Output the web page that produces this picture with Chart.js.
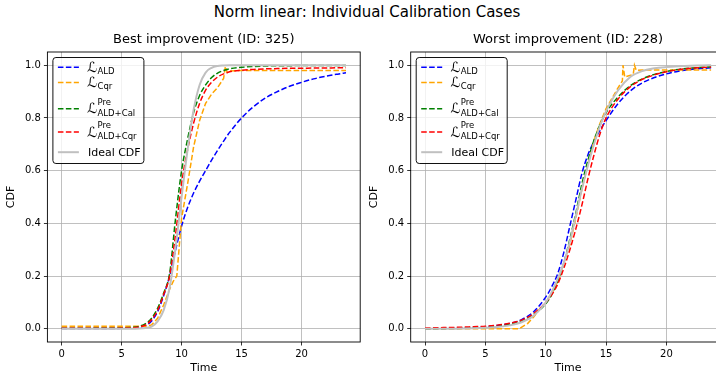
<!DOCTYPE html>
<html lang="en">
<head>
<meta charset="UTF-8">
<title>Norm linear: Individual Calibration Cases</title>
<style>
    html, body {
        margin: 0;
        padding: 0;
        background: #fff;
        overflow: hidden;
    }
    .figure {
        position: relative;
        width: 716px;
        height: 375px;
        overflow: hidden;
        font-family: "DejaVu Sans", sans-serif;
    }
    .suptitle {
        position: absolute;
        left: 0;
        width: 734px;
        top: 3px;
        text-align: center;
        font-size: 15px;
        line-height: 18px;
        color: #000;
    }
    canvas {
        position: absolute;
        top: 0;
    }
    #bestChart { left: 0; }
    #worstChart { left: 363px; }
</style>
</head>
<body>
<div class="figure">
    <div class="suptitle">Norm linear: Individual Calibration Cases</div>
    <canvas id="bestChart" width="365" height="375"></canvas>
    <canvas id="worstChart" width="367" height="375"></canvas>
</div>

<script src="https://cdn.jsdelivr.net/npm/chart.js"></script>
<script>
// ---- Best improvement (ID: 325) ----
const bestTime = [0, 1, 2, 3, 4, 5, 6, 6.5, 7, 7.5, 8, 8.5, 9, 9.5, 10, 10.5, 11, 11.5, 12, 12.5, 13, 13.5, 14, 15, 16, 17, 18, 19, 20, 21, 22, 23, 23.7];
const bestALD = [0.001, 0.001, 0.001, 0.001, 0.001, 0.002, 0.003, 0.006, 0.012, 0.03, 0.065, 0.125, 0.2, 0.3, 0.39, 0.46, 0.515, 0.56, 0.6, 0.64, 0.677, 0.712, 0.745, 0.8, 0.843, 0.876, 0.9, 0.92, 0.935, 0.948, 0.958, 0.966, 0.971];
const bestCal = [0.002, 0.002, 0.002, 0.003, 0.003, 0.004, 0.006, 0.01, 0.02, 0.04, 0.078, 0.135, 0.21, 0.42, 0.6, 0.72, 0.82, 0.885, 0.925, 0.953, 0.97, 0.98, 0.986, 0.992, 0.995, 0.997, 0.998, 0.998, 0.999, 0.999, 0.999, 0.999, 0.999];
const bestPreCqr = [0.002, 0.002, 0.002, 0.002, 0.002, 0.003, 0.004, 0.008, 0.015, 0.035, 0.07, 0.13, 0.2, 0.36, 0.55, 0.68, 0.78, 0.855, 0.905, 0.935, 0.955, 0.967, 0.975, 0.981, 0.984, 0.986, 0.987, 0.988, 0.988, 0.989, 0.989, 0.99, 0.99];
const bestIdeal = [0, 0, 0, 0, 0, 0, 0.0005, 0.001, 0.003, 0.008, 0.028, 0.07, 0.155, 0.31, 0.5, 0.68, 0.83, 0.925, 0.972, 0.99, 0.997, 0.999, 1, 1, 1, 1, 1, 1, 1, 1, 1, 1, 1];
const bestCqrTime = [0, 7, 7.5, 8, 8.5, 9, 9.3, 9.6, 10, 10.5, 11, 11.5, 12, 12.5, 13, 13.5, 13.65, 13.8, 14, 15, 23.7];
const bestCqr = [0.01, 0.01, 0.015, 0.04, 0.09, 0.15, 0.18, 0.2, 0.42, 0.55, 0.69, 0.79, 0.855, 0.89, 0.915, 0.95, 0.995, 0.972, 0.978, 0.98, 0.98];

// ---- Worst improvement (ID: 228) ----
const worstTime = [0, 1, 2, 3, 4, 5, 6, 7, 8, 9, 10, 10.5, 11, 11.5, 12, 12.5, 13, 13.5, 14, 14.5, 15, 16, 17, 18, 19, 20, 21, 22, 23, 23.7];
const worstALD = [0, 0.001, 0.002, 0.003, 0.005, 0.008, 0.013, 0.02, 0.035, 0.065, 0.12, 0.16, 0.21, 0.29, 0.39, 0.49, 0.59, 0.66, 0.712, 0.753, 0.79, 0.855, 0.902, 0.933, 0.953, 0.967, 0.977, 0.984, 0.988, 0.99];
const worstCal = [0, 0, 0.001, 0.002, 0.003, 0.005, 0.009, 0.016, 0.03, 0.055, 0.095, 0.13, 0.18, 0.25, 0.34, 0.44, 0.55, 0.64, 0.715, 0.775, 0.82, 0.88, 0.922, 0.948, 0.965, 0.976, 0.984, 0.989, 0.992, 0.994];
const worstPreCqr = [0.003, 0.004, 0.005, 0.006, 0.008, 0.01, 0.014, 0.021, 0.033, 0.058, 0.1, 0.13, 0.17, 0.23, 0.3, 0.38, 0.47, 0.57, 0.66, 0.74, 0.8, 0.872, 0.918, 0.946, 0.963, 0.975, 0.983, 0.988, 0.991, 0.993];
const worstIdeal = [0, 0, 0, 0.001, 0.002, 0.004, 0.007, 0.013, 0.025, 0.05, 0.1, 0.14, 0.19, 0.25, 0.33, 0.43, 0.53, 0.62, 0.7, 0.77, 0.825, 0.905, 0.955, 0.978, 0.988, 0.993, 0.996, 0.998, 0.999, 1];
const worstCqrTime = [0, 7.8, 8.5, 9, 9.5, 10, 10.5, 11, 11.5, 12, 12.5, 13, 13.5, 14, 14.5, 15, 15.5, 16, 16.35, 16.4, 16.55, 17.25, 17.35, 17.5, 18, 23.7];
const worstCqr = [0, 0, 0.02, 0.045, 0.075, 0.1, 0.135, 0.18, 0.25, 0.32, 0.42, 0.53, 0.625, 0.715, 0.78, 0.835, 0.875, 0.915, 0.94, 1, 0.955, 0.965, 1, 0.98, 0.982, 0.982];

const yTicks = [0, 0.2, 0.4, 0.6, 0.8, 1.0];
const FONT = '"DejaVu Sans", sans-serif';

// legend rows: colour, dashed, script-L label parts
const legendRows = [
    { color: '#0000ff', dash: true, sub: 'ALD' },
    { color: '#ffa500', dash: true, sub: 'Cqr' },
    { color: '#008000', dash: true, sub: 'ALD+Cal', sup: 'Pre' },
    { color: '#ff0000', dash: true, sub: 'ALD+Cqr', sup: 'Pre' },
    { color: '#c0c0c0', dash: false, text: 'Ideal CDF' }
];
const rowOffsets = [9.7, 25, 51.3, 74.5, 94.7];

function toPoints(time, values) {
    return time.map((t, i) => ({ x: t, y: values[i] }));
}

function dashed(time, values, color, order, straight) {
    return {
        data: toPoints(time, values),
        borderColor: color,
        borderWidth: 1.5,
        borderDash: [5.55, 2.4],
        pointRadius: 0,
        fill: false,
        order: order,
        tension: 0,
        cubicInterpolationMode: straight ? 'default' : 'monotone'
    };
}

// frame + math legend (Chart.js legend cannot do sub/superscripts)
const frameAndLegend = {
    id: 'frameAndLegend',
    afterDatasetsDraw(chart) {
        const { ctx, chartArea } = chart;
        ctx.save();
        ctx.strokeStyle = '#000';
        ctx.lineWidth = 0.9;
        ctx.strokeRect(chartArea.left, chartArea.top, chartArea.right - chartArea.left, chartArea.bottom - chartArea.top);

        const bx = chartArea.left + 5.5, by = chartArea.top + 5.5, bw = 91, bh = 106;
        ctx.beginPath();
        ctx.roundRect(bx, by, bw, bh, 3);
        ctx.fillStyle = 'rgba(255,255,255,0.8)';
        ctx.fill();
        ctx.strokeStyle = '#111';
        ctx.lineWidth = 1;
        ctx.stroke();

        legendRows.forEach((row, i) => {
            const y = by + rowOffsets[i];
            ctx.beginPath();
            ctx.setLineDash(row.dash ? [5.55, 2.4] : []);
            ctx.lineWidth = row.dash ? 1.5 : 2;
            ctx.strokeStyle = row.color;
            ctx.moveTo(bx + 5, y);
            ctx.lineTo(bx + 26, y);
            ctx.stroke();
            ctx.setLineDash([]);

            ctx.fillStyle = '#000';
            ctx.textBaseline = 'alphabetic';
            ctx.textAlign = 'left';
            const tx = bx + 34;
            if (row.text) {
                ctx.font = '11px ' + FONT;
                ctx.fillText(row.text, tx + 1, y + 4);
            } else {
                const base = y + 4.5;
                ctx.font = '14px ' + FONT;
                ctx.fillText('ℒ', tx, base);
                const w = ctx.measureText('ℒ').width;
                ctx.font = '8.5px ' + FONT;
                if (row.sup) {
                    ctx.fillText(row.sup, tx + w + 0.5, base - 8.5);
                    ctx.fillText(row.sub, tx + w + 0.5, base + 2.5);
                } else {
                    ctx.fillText(row.sub, tx + w + 0.5, base + 2);
                }
            }
        });
        ctx.restore();
    }
};

function makeChart(id, title, yAxisWidth, padRight, datasets) {
    return new Chart(document.getElementById(id), {
        type: 'line',
        data: { datasets: datasets },
        options: {
            responsive: false,
            animation: false,
            events: [],
            layout: { padding: { left: 0, right: padRight, top: 0, bottom: 0 } },
            plugins: {
                legend: { display: false },
                tooltip: { enabled: false },
                title: {
                    display: true,
                    text: title,
                    fullSize: false,
                    color: '#000',
                    font: { family: FONT, size: 13, weight: 'normal' },
                    padding: { top: 32.2, bottom: 4.2 }
                }
            },
            scales: {
                x: {
                    type: 'linear',
                    min: -1.185,
                    max: 24.885,
                    afterFit: (axis) => { axis.height = 33; },
                    border: { display: false },
                    grid: { color: '#b0b0b0', lineWidth: 0.8, tickLength: 3.5, tickColor: '#000', tickWidth: 0.8 },
                    ticks: {
                        stepSize: 5,
                        includeBounds: false,
                        maxRotation: 0,
                        padding: 3,
                        color: '#000',
                        font: { family: FONT, size: 10 },
                        callback: (v) => String(v)
                    },
                    title: {
                        display: true,
                        text: 'Time',
                        color: '#000',
                        font: { family: FONT, size: 11 },
                        padding: { top: 0, bottom: 0 }
                    }
                },
                y: {
                    min: -0.05,
                    max: 1.05,
                    afterFit: (axis) => { axis.width = yAxisWidth; },
                    afterBuildTicks: (axis) => { axis.ticks = yTicks.map(v => ({ value: v })); },
                    border: { display: false },
                    grid: { color: '#b0b0b0', lineWidth: 0.8, tickLength: 3.5, tickColor: '#000', tickWidth: 0.8 },
                    ticks: {
                        padding: 3,
                        color: '#000',
                        font: { family: FONT, size: 10 },
                        callback: (v) => v.toFixed(1)
                    },
                    title: {
                        display: true,
                        text: 'CDF',
                        color: '#000',
                        font: { family: FONT, size: 11 },
                        padding: { top: 5, bottom: 0 }
                    }
                }
            }
        },
        plugins: [frameAndLegend]
    });
}

function ideal(time, values) {
    return {
        data: toPoints(time, values),
        borderColor: '#c0c0c0',
        borderWidth: 2,
        pointRadius: 0,
        fill: false,
        order: 1,
        cubicInterpolationMode: 'monotone'
    };
}

makeChart('bestChart', 'Best improvement (ID: 325)', 47.4, 4.8, [
    dashed(bestTime, bestALD, '#0000ff', 5),
    dashed(bestCqrTime, bestCqr, '#ffa500', 4, true),
    dashed(bestTime, bestCal, '#008000', 3),
    dashed(bestTime, bestPreCqr, '#ff0000', 2),
    ideal(bestTime, bestIdeal)
]);

makeChart('worstChart', 'Worst improvement (ID: 228)', 47.7, 4.6, [
    dashed(worstTime, worstALD, '#0000ff', 5),
    dashed(worstCqrTime, worstCqr, '#ffa500', 4, true),
    dashed(worstTime, worstCal, '#008000', 3),
    dashed(worstTime, worstPreCqr, '#ff0000', 2),
    ideal(worstTime, worstIdeal)
]);
</script>
</body>
</html>
